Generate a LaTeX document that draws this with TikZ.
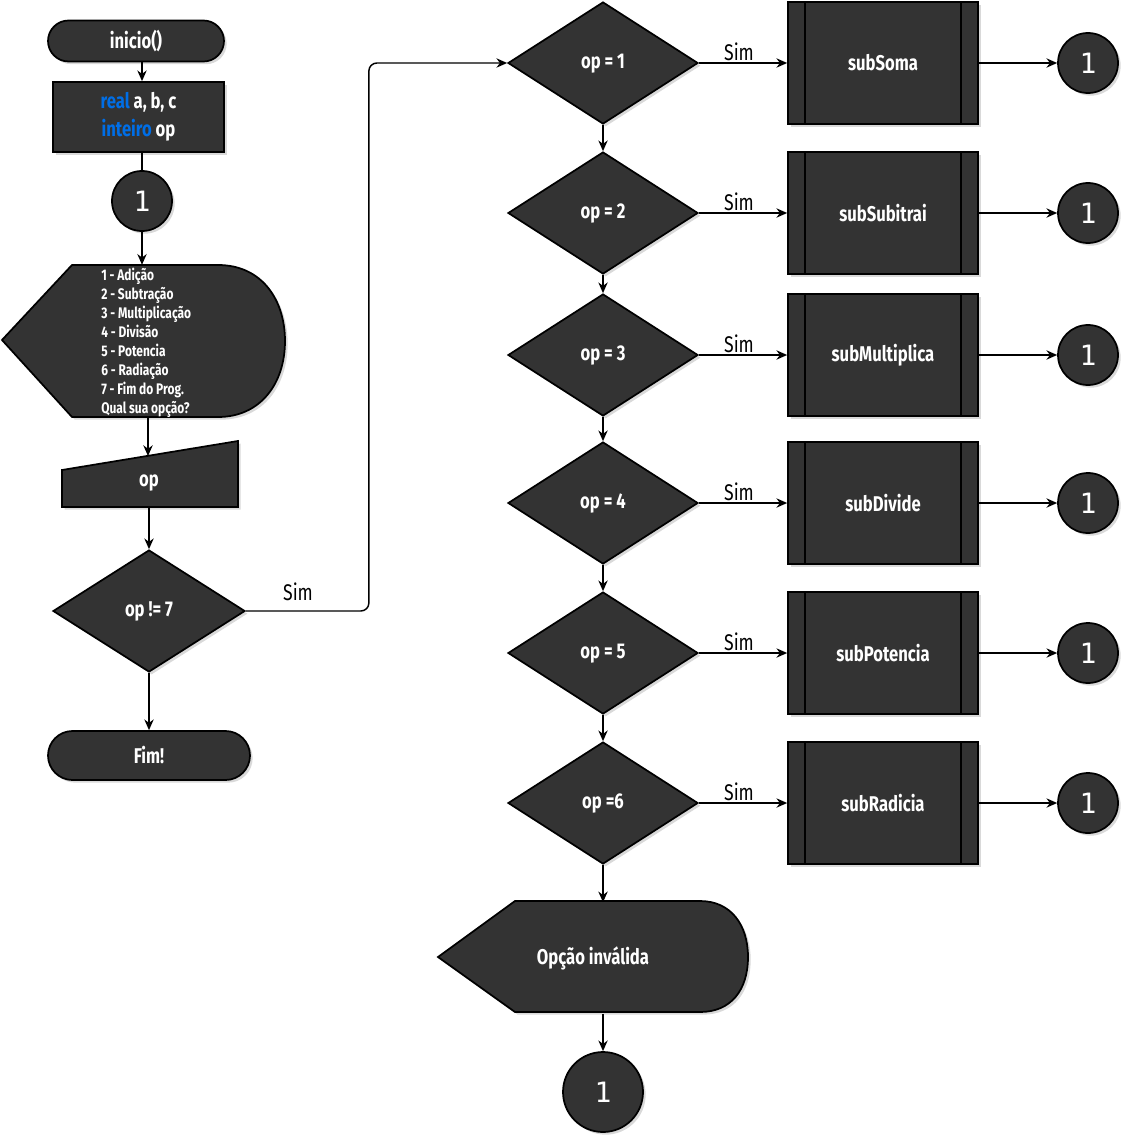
\documentclass[tikz,border=0pt]{standalone}
\usepackage{fontspec}
\setmainfont{Fira Sans}[FakeStretch=0.78]
\newfontfamily\numfont{DejaVu Sans Mono}
\usetikzlibrary{shapes.geometric,shapes.misc,arrows.meta,shadows}
\definecolor{boxfill}{HTML}{333333}
\definecolor{kw}{RGB}{0,110,230}
\tikzset{
  base/.style={draw=black, line width=1.3pt, fill=boxfill, text=white,
    font=\bfseries\fontsize{16}{19}\selectfont,
    drop shadow={shadow xshift=2pt, shadow yshift=-2pt, opacity=0.3, fill=gray}},
  terminal/.style={base, rounded rectangle, inner sep=0pt},
  proc/.style={base, rectangle, inner sep=0pt},
  conn/.style={base, circle, minimum size=45pt, inner sep=0pt,
    font=\numfont\fontsize{21}{24}\selectfont},
  decision/.style={base, diamond, minimum width=142.5pt, minimum height=91.5pt, inner sep=0pt},
  subbox/.style={proc, minimum width=142.5pt, minimum height=91.5pt},
  flow/.style={-{Stealth[length=8pt,width=7pt]}, line width=1.1pt, draw=black},
  lbl/.style={font=\fontsize{17}{19}\selectfont, text=black, inner sep=1pt},
  anchorbox/.style={inner sep=0pt, draw=none, fill=none}
}
\begin{document}
\begin{tikzpicture}[x=0.75pt, y=-0.75pt]
\useasboundingbox (0,0) rectangle (1133,1148);

% ---------- left column ----------
\node[terminal, minimum width=132pt, minimum height=30.75pt] (start) at (136,41) {inicio()};
\node[proc, minimum width=128.25pt, minimum height=52.5pt, align=center,
  font=\bfseries\fontsize{16}{21}\selectfont, text depth=4pt] (decl) at (138.5,117)
  {\textcolor{kw}{real} a, b, c\\\textcolor{kw}{inteiro} op};
\node[conn] (c0) at (142,201) {1};

% display (menu)
\path[base] (2,340) -- (72,265) -- (218,265) .. controls (262,265) and (285,300) .. (285,341)
  .. controls (285,384) and (260,417) .. (218,417) -- (72,417) -- cycle;
\node[anchorbox, minimum width=212.25pt, minimum height=114pt] (disp) at (143.5,341) {};
\node[anchor=west, align=left, text=white, inner sep=0pt,
  font=\bfseries\fontsize{11.5}{14.25}\selectfont] (menu) at (101,342.5)
  {1 - Adição\\2 - Subtração\\3 - Multiplicação\\4 - Divisão\\5 - Potencia\\6 - Radiação\\7 - Fim do Prog.\\Qual sua opção?};

% manual input
\path[base] (62,470) -- (238,441) -- (238,507) -- (62,507) -- cycle;
\node[anchorbox, minimum width=132pt, minimum height=49.5pt] (inp) at (149,474) {};
\node[text=white, font=\bfseries\fontsize{16}{19}\selectfont, inner sep=0pt] (inptxt) at (149,483) {op};
\coordinate (inptop) at (148,456);

\node[decision, minimum width=144pt] (dec0) at (149,611) {op != 7};
\node[terminal, minimum width=151.5pt, minimum height=36.75pt] (fim) at (149,755.5) {Fim!};

\draw[flow] (start.south -| c0) -- (decl.north -| c0);
\draw[line width=1.1pt] (decl.south -| c0) -- (c0.north);
\draw[flow] (c0.south) -- (c0.south |- disp.north);
\draw[flow] (disp.south -| inptop) -- (inptop);
\draw[flow] (inp.south -| dec0) -- (dec0.north);
\draw[flow] (dec0.south) -- (dec0.south |- fim.north);
\node[lbl] (sim0) at (298,592) {Sim};

% ---------- right column ----------
\foreach \i/\yy/\cond/\sname in {1/63/{op = 1}/subSoma, 2/213/{op = 2}/subSubitrai,
    3/355/{op = 3}/subMultiplica, 4/503/{op = 4}/subDivide,
    5/653/{op = 5}/subPotencia, 6/803/{op =6}/subRadicia}{
  \node[decision, text depth=3pt] (d\i) at (603,\yy) {\cond};
  \node[subbox] (s\i) at (883,\yy) {\sname};
  \draw[line width=1.3pt] ([xshift=13.5pt]s\i.north west) -- ([xshift=13.5pt]s\i.south west);
  \draw[line width=1.3pt] ([xshift=-13.5pt]s\i.north east) -- ([xshift=-13.5pt]s\i.south east);
  \node[conn] (e\i) at (1088,\yy) {1};
  \draw[flow] (d\i.east) -- node[lbl, above, xshift=-3pt] (sim\i) {Sim} (s\i.west);
  \draw[flow] (s\i.east) -- (e\i.west);
}
\foreach \a/\b in {1/2,2/3,3/4,4/5,5/6}{
  \draw[flow] (d\a.south) -- (d\b.north);
}
\draw[flow, rounded corners=6pt] (dec0.east) -- ++(123,0) |- (d1.west);

% invalid option display
\path[base] (438,957) -- (515,901) -- (700,901) .. controls (731,901) and (748,925) .. (748,957)
  .. controls (748,990) and (731,1012) .. (700,1012) -- (515,1012) -- cycle;
\node[anchorbox, minimum width=232.5pt, minimum height=83.25pt, text=white,
  font=\bfseries\fontsize{16}{19}\selectfont] (disp2) at (593,958) {Opção inválida};
\node[conn, minimum size=60pt] (cend) at (603,1092) {1};

\draw[flow] (d6.south) -- (d6.south |- disp2.north);
\draw[flow] (cend |- disp2.south) -- (cend.north);
\end{tikzpicture}
\end{document}
